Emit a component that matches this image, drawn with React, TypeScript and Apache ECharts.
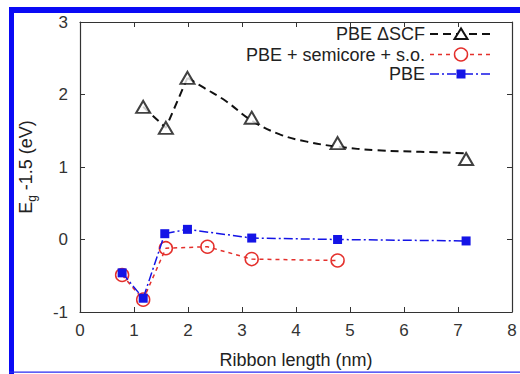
import React, { useEffect, useRef } from "react";
import * as echarts from "echarts";

// PBE ΔSCF results (open triangles)
const scfX = [1.17, 1.59, 1.99, 3.18, 4.77, 7.15];
const scfY = [1.83, 1.54, 2.23, 1.68, 1.33, 1.11];
// dashed guide: straight through the short ribbons, then the fitted decay curve
const scfJoinX = [1.17, 1.59, 1.99];
const scfJoinY = [1.83, 1.54, 2.23];
const scfFitX = [1.99, 2.3, 2.7, 3.18, 3.7, 4.2, 4.77, 5.5, 6.3, 7.15];
const scfFitY = [2.23, 2.09, 1.91, 1.64, 1.45, 1.35, 1.28, 1.23, 1.21, 1.19];

// PBE + semicore + s.o. (open red circles)
const socX = [0.78, 1.17, 1.59, 2.36, 3.18, 4.77];
const socY = [-0.49, -0.83, -0.12, -0.1, -0.27, -0.29];

// PBE (filled blue squares)
const pbeX = [0.78, 1.17, 1.57, 1.99, 3.18, 4.77, 7.15];
const pbeY = [-0.46, -0.81, 0.08, 0.14, 0.02, 0.0, -0.02];

const xTicks = [0, 1, 2, 3, 4, 5, 6, 7, 8];
const yTicks = [-1, 0, 1, 2, 3];

const legendNames = ["PBE \u0394SCF", "PBE + semicore + s.o.", "PBE"];

const BLACK = "#111111";
const RED = "#e4302c";
const BLUE = "#1414e6";
const FRAME = "#333333";
const FONT = "'Liberation Sans', Arial, Helvetica, sans-serif";

const pairs = (xs: number[], ys: number[]) => xs.map((x, i) => [x, ys[i]]);

export default function App() {
  const ref = useRef<HTMLDivElement>(null);

  useEffect(() => {
    if (!ref.current) return;
    const chart = echarts.init(ref.current, null, { renderer: "svg" });

    const axisLine = { show: true, onZero: false, lineStyle: { color: FRAME, width: 1.2 } };
    const tickStyle = { show: true, inside: true, length: 5, lineStyle: { color: FRAME, width: 1 } };

    // legend rows drawn as graphics: right-aligned label, then line sample with marker
    const legendRowsY = [34, 54.5, 74];
    const textRight = 425;
    const lineX0 = 430;
    const lineX1 = 492;
    const markX = 461;
    const legendGraphics: any[] = [];
    legendNames.forEach((name, i) => {
      legendGraphics.push({
        type: "text",
        x: textRight,
        y: legendRowsY[i],
        style: {
          text: name,
          font: `18px ${FONT}`,
          fill: "#222",
          textAlign: "right",
          textVerticalAlign: "middle",
        },
      });
    });
    // ΔSCF sample
    legendGraphics.push({
      type: "line",
      shape: { x1: lineX0, y1: legendRowsY[0], x2: lineX1, y2: legendRowsY[0] },
      style: { stroke: BLACK, lineWidth: 2, lineDash: [8, 5] },
    });
    legendGraphics.push({
      type: "polygon",
      shape: {
        points: [
          [markX, legendRowsY[0] - 5.5],
          [markX - 6.5, legendRowsY[0] + 5],
          [markX + 6.5, legendRowsY[0] + 5],
        ],
      },
      style: { fill: "#fff", stroke: BLACK, lineWidth: 2 },
    });
    // semicore sample
    legendGraphics.push({
      type: "line",
      shape: { x1: lineX0, y1: legendRowsY[1], x2: lineX1, y2: legendRowsY[1] },
      style: { stroke: RED, lineWidth: 1.5, lineDash: [4, 4] },
    });
    legendGraphics.push({
      type: "circle",
      shape: { cx: markX, cy: legendRowsY[1], r: 6.5 },
      style: { fill: "#fff", stroke: RED, lineWidth: 1.5 },
    });
    // PBE sample
    legendGraphics.push({
      type: "line",
      shape: { x1: lineX0, y1: legendRowsY[2], x2: lineX1, y2: legendRowsY[2] },
      style: { stroke: BLUE, lineWidth: 1.5, lineDash: [9, 3, 2, 3] },
    });
    legendGraphics.push({
      type: "rect",
      shape: { x: markX - 4.5, y: legendRowsY[2] - 4.5, width: 9, height: 9 },
      style: { fill: BLUE },
    });

    // blue page frame
    const frameGraphics = [
      { type: "rect", shape: { x: 9, y: 7, width: 5, height: 367 }, style: { fill: "#0a0af5" } },
      { type: "rect", shape: { x: 9, y: 7, width: 511, height: 6 }, style: { fill: "#0a0af5" } },
      { type: "rect", shape: { x: 9, y: 371.5, width: 511, height: 1.2 }, style: { fill: "#2a2af0" } },
    ];

    chart.setOption({
      animation: false,
      backgroundColor: "#ffffff",
      grid: { left: 80, right: 8, top: 22, bottom: 60, containLabel: false },
      xAxis: [
        {
          type: "value",
          min: xTicks[0],
          max: xTicks[xTicks.length - 1],
          interval: 1,
          position: "bottom",
          name: "Ribbon length (nm)",
          nameLocation: "middle",
          nameGap: 39,
          nameTextStyle: { fontFamily: FONT, fontSize: 18, color: "#222" },
          axisLine,
          axisTick: tickStyle,
          axisLabel: { fontFamily: FONT, fontSize: 17, color: "#333", margin: 10 },
          splitLine: { show: false },
        },
        {
          type: "value",
          min: xTicks[0],
          max: xTicks[xTicks.length - 1],
          interval: 1,
          position: "top",
          axisLine,
          axisTick: tickStyle,
          axisLabel: { show: false },
          splitLine: { show: false },
        },
      ],
      yAxis: [
        {
          type: "value",
          min: yTicks[0],
          max: yTicks[yTicks.length - 1],
          interval: 1,
          position: "left",
          name: "{e|E}{g|g}{t| -1.5 (eV)}",
          nameLocation: "middle",
          nameGap: 42,
          nameTextStyle: {
            fontFamily: FONT,
            color: "#222",
            rich: {
              e: { fontFamily: FONT, fontSize: 18, color: "#222", lineHeight: 24, verticalAlign: "middle" },
              g: { fontFamily: FONT, fontSize: 12, color: "#222", lineHeight: 12, verticalAlign: "bottom" },
              t: { fontFamily: FONT, fontSize: 18, color: "#222", lineHeight: 24, verticalAlign: "middle" },
            },
          },
          axisLine,
          axisTick: tickStyle,
          axisLabel: { fontFamily: FONT, fontSize: 17, color: "#333", margin: 12 },
          splitLine: { show: false },
        },
        {
          type: "value",
          min: yTicks[0],
          max: yTicks[yTicks.length - 1],
          interval: 1,
          position: "right",
          axisLine,
          axisTick: tickStyle,
          axisLabel: { show: false },
          splitLine: { show: false },
        },
      ],
      series: [
        {
          name: legendNames[0] + " join",
          type: "line",
          data: pairs(scfJoinX, scfJoinY),
          showSymbol: false,
          symbol: "none",
          lineStyle: { color: BLACK, width: 2, type: [8, 5] },
          z: 3,
        },
        {
          name: legendNames[0] + " fit",
          type: "line",
          data: pairs(scfFitX, scfFitY),
          smooth: 0.4,
          showSymbol: false,
          symbol: "none",
          lineStyle: { color: BLACK, width: 2, type: [8, 5] },
          z: 3,
        },
        {
          name: legendNames[0],
          type: "scatter",
          data: pairs(scfX, scfY),
          symbol: "triangle",
          symbolSize: [14, 12],
          itemStyle: { color: "#ffffff", borderColor: BLACK, borderWidth: 2 },
          z: 4,
        },
        {
          name: legendNames[1],
          type: "line",
          data: pairs(socX, socY),
          symbol: "circle",
          symbolSize: 13,
          showAllSymbol: true,
          itemStyle: { color: "rgba(255,255,255,0)", borderColor: RED, borderWidth: 1.5 },
          lineStyle: { color: RED, width: 1.5, type: [4, 4] },
          z: 5,
        },
        {
          name: legendNames[2],
          type: "line",
          data: pairs(pbeX, pbeY),
          symbol: "rect",
          symbolSize: 9,
          showAllSymbol: true,
          itemStyle: { color: BLUE, borderWidth: 0 },
          lineStyle: { color: BLUE, width: 1.5, type: [9, 3, 2, 3] },
          z: 6,
        },
      ],
      graphic: [...frameGraphics, ...legendGraphics],
    });

    return () => chart.dispose();
  }, []);

  return (
    <div
      ref={ref}
      style={{ position: "absolute", left: 0, top: 0, width: 520, height: 374, background: "#fff" }}
    />
  );
}
